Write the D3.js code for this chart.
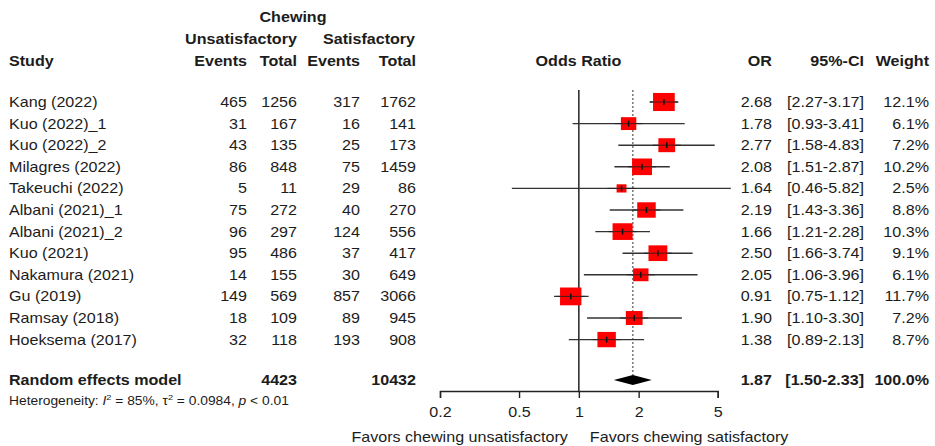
<!DOCTYPE html>
<html>
<head>
<meta charset="utf-8">
<script src="https://cdn.jsdelivr.net/npm/d3@7/dist/d3.min.js"></script>
<style>
  html, body { margin: 0; padding: 0; background: #fff; }
  svg { display: block; }
  text { font-family: "Liberation Sans", Arial, Helvetica, sans-serif; fill: #1c1c1c; }
</style>
</head>
<body>
<div id="chart"></div>
<script>
// Study-level data: chewing unsatisfactory vs satisfactory
const studies = ["Kang (2022)", "Kuo (2022)_1", "Kuo (2022)_2", "Milagres (2022)", "Takeuchi (2022)",
  "Albani (2021)_1", "Albani (2021)_2", "Kuo (2021)", "Nakamura (2021)", "Gu (2019)",
  "Ramsay (2018)", "Hoeksema (2017)"];
const eventsUnsat = [465, 31, 43, 86, 5, 75, 96, 95, 14, 149, 18, 32];
const totalUnsat  = [1256, 167, 135, 848, 11, 272, 297, 486, 155, 569, 109, 118];
const eventsSat   = [317, 16, 25, 75, 29, 40, 124, 37, 30, 857, 89, 193];
const totalSat    = [1762, 141, 173, 1459, 86, 270, 556, 417, 649, 3066, 945, 908];
const oddsRatio   = [2.68, 1.78, 2.77, 2.08, 1.64, 2.19, 1.66, 2.50, 2.05, 0.91, 1.90, 1.38];
const ciLower     = [2.27, 0.93, 1.58, 1.51, 0.46, 1.43, 1.21, 1.66, 1.06, 0.75, 1.10, 0.89];
const ciUpper     = [3.17, 3.41, 4.83, 2.87, 5.82, 3.36, 2.28, 3.74, 3.96, 1.12, 3.30, 2.13];
const weights     = [12.1, 6.1, 7.2, 10.2, 2.5, 8.8, 10.3, 9.1, 6.1, 11.7, 7.2, 8.7];

// Pooled random effects estimate
const pooledOR = 1.87;
const pooledLower = 1.50;
const pooledUpper = 2.33;
const pooledWeight = 100.0;
const pooledTotalUnsat = 4423;
const pooledTotalSat = 10432;

const axisTicks = [0.2, 0.5, 1, 2, 5];

const W = 935, H = 446;
const SX = 1.15; // horizontal text stretch

const svg = d3.select("#chart").append("svg").attr("width", W).attr("height", H);

const x = d3.scaleLog().domain([0.2, 5]).range([440, 717.7]);
const y = d3.scaleLinear().domain([0, studies.length - 1]).range([102, 339.6]);
const ySummary = 380;

function label(x0, y0, str, opts = {}) {
  const t = svg.append("text")
    .attr("transform", `translate(${x0},${y0}) scale(${SX},1)`)
    .attr("text-anchor", opts.anchor || "start")
    .attr("font-size", opts.size || 14)
    .attr("font-weight", opts.bold ? "bold" : "normal")
    .text(str);
  return t;
}

// Column positions
const colStudy = 9, colEvU = 247, colTotU = 297, colEvS = 360, colTotS = 416;
const colOR = 772, colCI = 864, colWt = 929;

// Header
label(293, 22, "Chewing", { anchor: "middle", bold: true });
label(241, 44, "Unsatisfactory", { anchor: "middle", bold: true });
label(369, 44, "Satisfactory", { anchor: "middle", bold: true });
const hy = 66;
label(colStudy, hy, "Study", { bold: true });
label(colEvU, hy, "Events", { anchor: "end", bold: true });
label(colTotU, hy, "Total", { anchor: "end", bold: true });
label(colEvS, hy, "Events", { anchor: "end", bold: true });
label(colTotS, hy, "Total", { anchor: "end", bold: true });
label(578.5, hy, "Odds Ratio", { anchor: "middle", bold: true });
label(colOR, hy, "OR", { anchor: "end", bold: true });
label(colCI, hy, "95%-CI", { anchor: "end", bold: true });
label(colWt, hy, "Weight", { anchor: "end", bold: true });

// Study rows text
const f2 = d3.format(".2f");
studies.forEach((s, i) => {
  const by = y(i) + 5;
  label(colStudy, by, s);
  label(colEvU, by, eventsUnsat[i], { anchor: "end" });
  label(colTotU, by, totalUnsat[i], { anchor: "end" });
  label(colEvS, by, eventsSat[i], { anchor: "end" });
  label(colTotS, by, totalSat[i], { anchor: "end" });
  label(colOR, by, f2(oddsRatio[i]), { anchor: "end" });
  label(colCI, by, `[${f2(ciLower[i])}-${f2(ciUpper[i])}]`, { anchor: "end" });
  label(colWt, by, weights[i].toFixed(1) + "%", { anchor: "end" });
});

// Summary row text
const sy = ySummary + 5;
label(colStudy, sy, "Random effects model", { bold: true });
label(colTotU, sy, pooledTotalUnsat, { anchor: "end", bold: true });
label(colTotS, sy, pooledTotalSat, { anchor: "end", bold: true });
label(colOR, sy, f2(pooledOR), { anchor: "end", bold: true });
label(colCI, sy, `[${f2(pooledLower)}-${f2(pooledUpper)}]`, { anchor: "end", bold: true });
label(colWt, sy, pooledWeight.toFixed(1) + "%", { anchor: "end", bold: true });

// Heterogeneity line
const het = svg.append("text")
  .attr("transform", `translate(${colStudy},405) scale(${SX},1)`)
  .attr("font-size", 12);
het.append("tspan").text("Heterogeneity: ");
het.append("tspan").attr("font-style", "italic").text("I");
het.append("tspan").attr("font-size", 8).attr("dy", -5).text("2");
het.append("tspan").attr("dy", 5).text(" = 85%, \u03c4");
het.append("tspan").attr("font-size", 8).attr("dy", -5).text("2");
het.append("tspan").attr("dy", 5).text(" = 0.0984, ");
het.append("tspan").attr("font-style", "italic").text("p");
het.append("tspan").text(" < 0.01");

// Reference lines
const plotTop = 90, axisY = 391;
svg.append("line")
  .attr("x1", x(1)).attr("x2", x(1)).attr("y1", plotTop).attr("y2", axisY)
  .attr("stroke", "#222").attr("stroke-width", 1.5);
svg.append("line")
  .attr("x1", x(pooledOR)).attr("x2", x(pooledOR)).attr("y1", plotTop).attr("y2", ySummary - 5)
  .attr("stroke", "#555").attr("stroke-width", 1.2).attr("stroke-dasharray", "2,2");

// Confidence intervals
const marks = svg.append("g");
studies.forEach((s, i) => {
  marks.append("line")
    .attr("x1", x(ciLower[i])).attr("x2", x(ciUpper[i]))
    .attr("y1", y(i)).attr("y2", y(i))
    .attr("stroke", "#333").attr("stroke-width", 1.4);
});
// Weighted squares
studies.forEach((s, i) => {
  const h = 5.2 * Math.sqrt(weights[i]);
  const w = h * 1.2;
  marks.append("rect")
    .attr("x", x(oddsRatio[i]) - w / 2).attr("y", y(i) - h / 2)
    .attr("width", w).attr("height", h)
    .attr("fill", "#ff0000");
});
// CI line through the squares and point estimate ticks
studies.forEach((s, i) => {
  marks.append("line")
    .attr("x1", Math.max(x(ciLower[i]), x(oddsRatio[i]) - 14)).attr("x2", Math.min(x(ciUpper[i]), x(oddsRatio[i]) + 14))
    .attr("y1", y(i)).attr("y2", y(i))
    .attr("stroke", "#222").attr("stroke-width", 1.1).attr("opacity", 0.8);
  marks.append("line")
    .attr("x1", x(oddsRatio[i])).attr("x2", x(oddsRatio[i]))
    .attr("y1", y(i) - 3).attr("y2", y(i) + 3)
    .attr("stroke", "#111").attr("stroke-width", 1.5);
});

// Pooled diamond
svg.append("polygon")
  .attr("points", [
    [x(pooledLower), ySummary], [x(pooledOR), ySummary - 5],
    [x(pooledUpper), ySummary], [x(pooledOR), ySummary + 5]
  ].map(p => p.join(",")).join(" "))
  .attr("fill", "#000");

// Axis
const axis = svg.append("g")
  .attr("transform", `translate(0,${axisY})`)
  .call(d3.axisBottom(x).tickValues(axisTicks).tickFormat(d => String(d)).tickSize(7).tickSizeOuter(7).tickPadding(9));
axis.select(".domain").attr("stroke", "#222").attr("stroke-width", 1.4);
axis.selectAll(".tick line").attr("stroke", "#222").attr("stroke-width", 1.4);
axis.selectAll(".tick text")
  .attr("font-size", 14)
  .attr("font-family", "Liberation Sans, Arial, sans-serif")
  .attr("fill", "#1c1c1c")
  .attr("transform", `scale(${SX},1)`);

// Direction labels
label(x(1) - 11, 442, "Favors chewing unsatisfactory", { anchor: "end" });
label(x(1) + 11, 442, "Favors chewing satisfactory");
</script>
</body>
</html>
